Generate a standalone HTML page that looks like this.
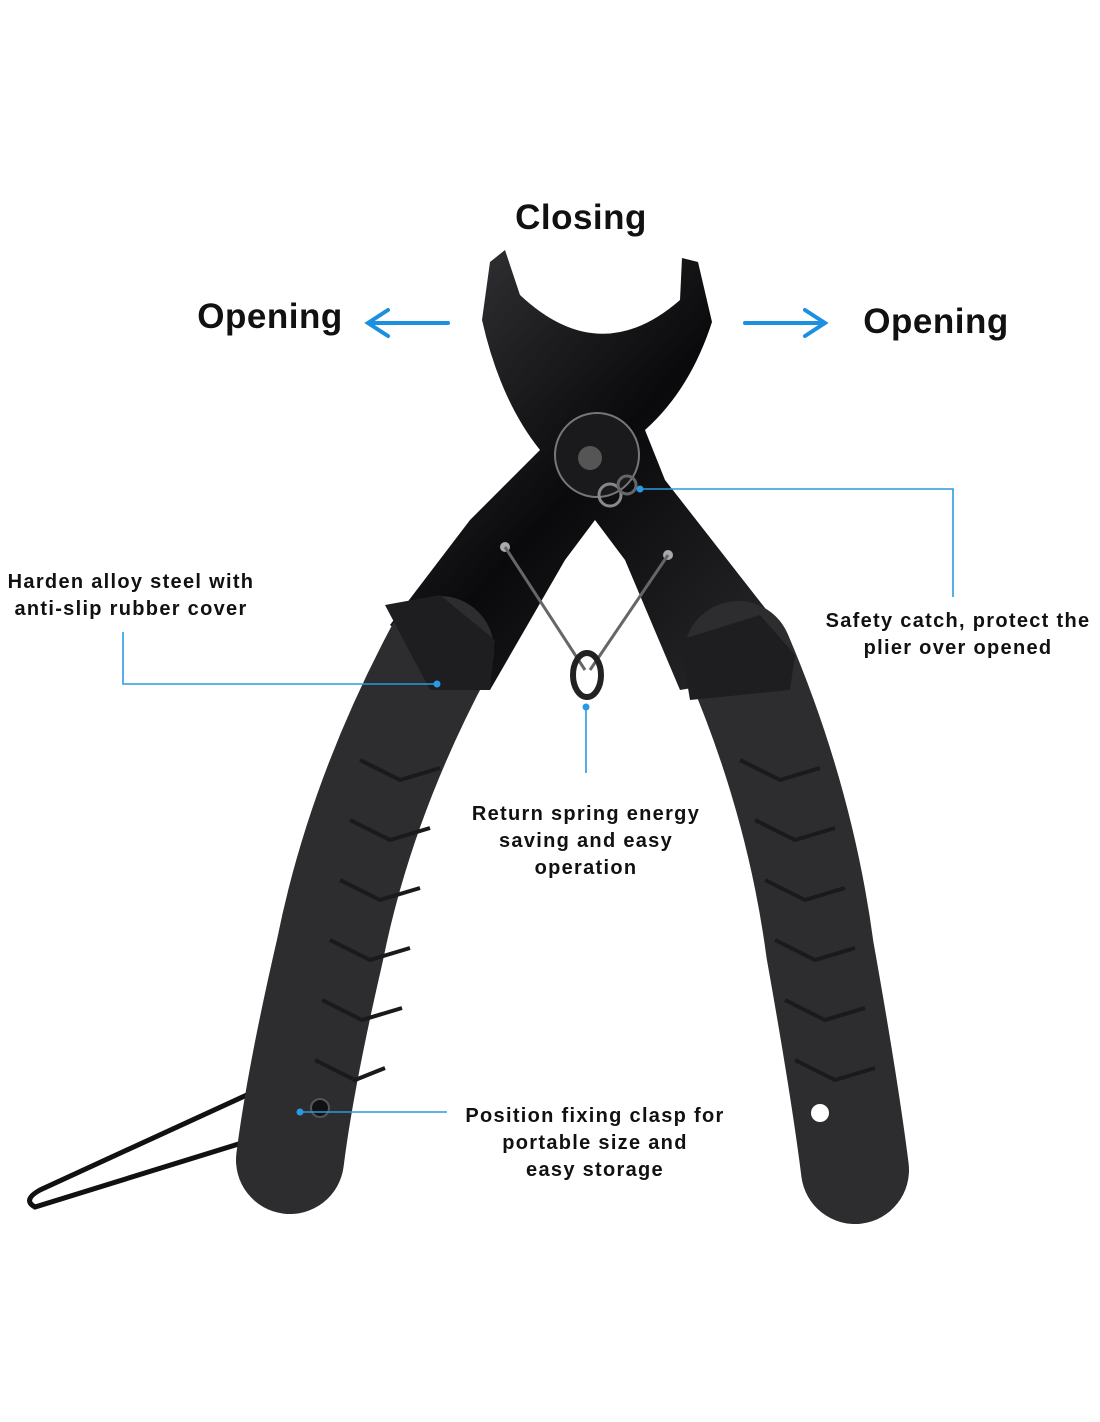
<!DOCTYPE html>
<html><head><meta charset="utf-8"><style>
body{margin:0;background:#fff;}
.t{position:absolute;font-family:"Liberation Sans",Arial,sans-serif;font-weight:bold;color:#111;text-align:center;}
.s{font-size:20px;letter-spacing:1.3px;line-height:27px;}
.b{font-size:35px;letter-spacing:0.5px;}
</style></head><body>
<div style="position:relative;width:1100px;height:1422px;overflow:hidden;background:#fff">
<svg width="1100" height="1422" style="position:absolute;left:0;top:0">
<defs>
<linearGradient id="st" x1="0" y1="0" x2="1" y2="1"><stop offset="0" stop-color="#3a3a3e"/><stop offset="0.5" stop-color="#0a0a0c"/><stop offset="1" stop-color="#2a2a2e"/></linearGradient>
</defs>
<path d="M275 1082 L40 1190 Q22 1200 35 1207 L300 1125" fill="none" stroke="#111" stroke-width="5"/>
<path d="M490 262 L505 250 L520 295 Q600 370 680 300 L682 258 L698 262 L712 322 Q690 390 645 430 L665 480 L790 640 L740 680 L680 690 L625 560 L595 520 L565 560 L490 690 L440 660 L390 625 L470 520 L540 450 Q500 400 482 320 Z" fill="url(#st)"/>
<circle cx="597" cy="455" r="42" fill="#1a1a1d" stroke="#777" stroke-width="2"/>
<circle cx="590" cy="458" r="12" fill="#555"/>
<circle cx="610" cy="495" r="11" fill="none" stroke="#888" stroke-width="3"/>
<circle cx="627" cy="485" r="9" fill="none" stroke="#666" stroke-width="3"/>
<circle cx="505" cy="547" r="5" fill="#aaa"/><circle cx="668" cy="555" r="5" fill="#aaa"/>
<path d="M505 547 L585 670 M668 555 L590 670" stroke="#666" stroke-width="3" fill="none"/>
<ellipse cx="587" cy="675" rx="14" ry="22" fill="none" stroke="#222" stroke-width="6"/>
<path d="M440 650 Q360 800 330 950 Q300 1080 290 1160" fill="none" stroke="#2d2d30" stroke-width="108" stroke-linecap="round"/>
<path d="M738 655 Q800 800 820 950 Q845 1090 855 1170" fill="none" stroke="#2d2d30" stroke-width="108" stroke-linecap="round"/>
<path d="M385 605 L440 595 L495 640 L490 690 L430 690 Z" fill="#1e1e21"/>
<path d="M680 640 L760 615 L795 655 L790 690 L690 700 Z" fill="#1e1e21"/>
<g stroke="#1a1a1c" stroke-width="4" fill="none">
<path d="M360 760 l40 20 l40 -12 M350 820 l40 20 l40 -12 M340 880 l40 20 l40 -12 M330 940 l40 20 l40 -12 M322 1000 l40 20 l40 -12 M315 1060 l40 20 l30 -12"/>
<path d="M740 760 l40 20 l40 -12 M755 820 l40 20 l40 -12 M765 880 l40 20 l40 -12 M775 940 l40 20 l40 -12 M785 1000 l40 20 l40 -12 M795 1060 l40 20 l40 -12"/>
</g>
<circle cx="320" cy="1108" r="9" fill="#111" stroke="#555" stroke-width="2"/>
<circle cx="820" cy="1113" r="9" fill="#fff"/>
<g stroke="#1b8fe0" stroke-width="4" fill="none" stroke-linecap="round">
<path d="M448 323 L370 323 M388 310 L368 323 L388 336"/>
<path d="M745 323 L823 323 M805 310 L825 323 L805 336"/>
</g>
<g stroke="#2a9ae2" stroke-width="1.6" fill="none">
<path d="M123 632 L123 684 L437 684"/>
<path d="M640 489 L953 489 L953 597"/>
<path d="M586 707 L586 773"/>
<path d="M300 1112 L447 1112"/>
</g>
<g fill="#2a9ae2"><circle cx="437" cy="684" r="3.5"/><circle cx="640" cy="489" r="3.5"/><circle cx="586" cy="707" r="3.5"/><circle cx="300" cy="1112" r="3.5"/></g>
</svg>
<div class="t b" style="left:480px;top:198px;width:202px">Closing</div>
<div class="t b" style="left:180px;top:297px;width:180px">Opening</div>
<div class="t b" style="left:846px;top:302px;width:180px">Opening</div>
<div class="t s" style="left:-30px;top:569px;width:322px">Harden alloy steel with<br>anti-slip rubber cover</div>
<div class="t s" style="left:798px;top:608px;width:320px">Safety catch, protect the<br>plier over opened</div>
<div class="t s" style="left:426px;top:801px;width:320px">Return spring energy<br>saving and easy<br>operation</div>
<div class="t s" style="left:425px;top:1103px;width:340px">Position fixing clasp for<br>portable size and<br>easy storage</div>
</div>
</body></html>
